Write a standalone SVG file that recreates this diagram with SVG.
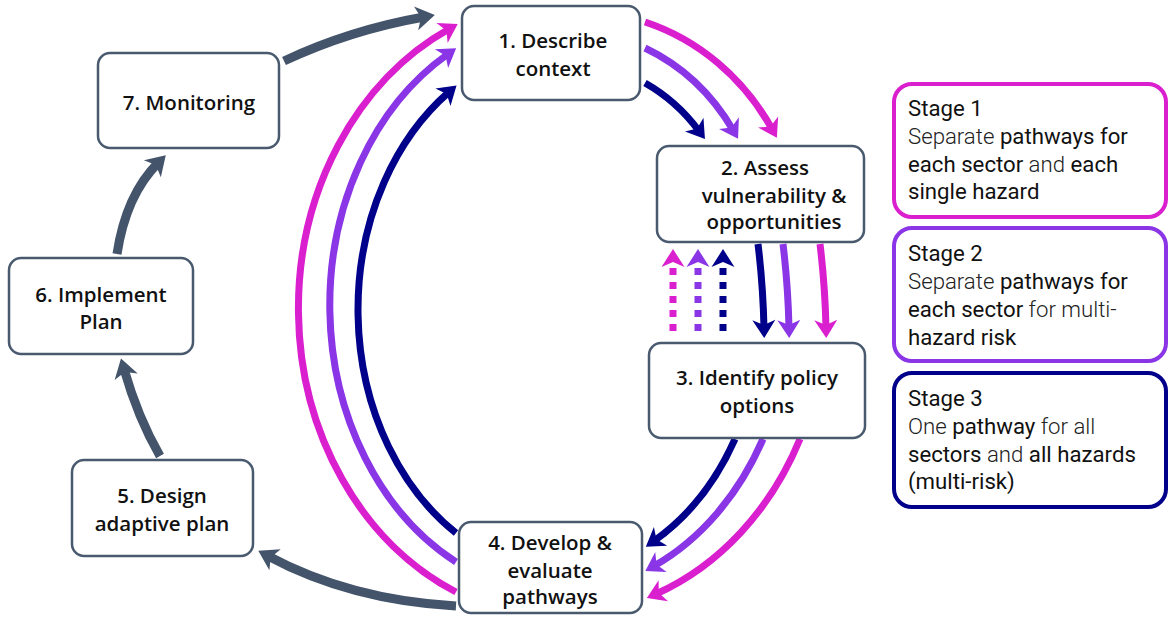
<svg xmlns="http://www.w3.org/2000/svg" width="1169" height="618" viewBox="0 0 1169 618">
<style>
.node rect{fill:#fff;stroke:#4a5a6e;stroke-width:2.5}
.node text{font-family:"Open Sans",Roboto,"Liberation Sans",sans-serif;font-weight:600;font-size:20.5px;fill:#111;text-anchor:middle}
.leg rect{fill:#fff;stroke-width:4}
.leg text{font-family:Roboto,"Liberation Sans",sans-serif;font-size:22.2px;fill:#111;font-weight:400}
.lt{font-weight:300;fill:#222}
.c path{fill:none}
.g{stroke:#44546a;stroke-width:9}
.m{stroke:#da1fcf;stroke-width:7}
.p{stroke:#8a36e6;stroke-width:7}
.n{stroke:#00008a;stroke-width:7}
.d{stroke-dasharray:7 7}
</style>
<defs>
<marker id="ag" markerUnits="userSpaceOnUse" viewBox="-10 -14 24 28" markerWidth="24" markerHeight="28" refX="0" refY="0" orient="auto"><path d="M11,0 L-8,-12 L-3,0 L-8,12 Z" fill="#44546a"/></marker>
<marker id="am" markerUnits="userSpaceOnUse" viewBox="-10 -14 24 28" markerWidth="24" markerHeight="28" refX="0" refY="0" orient="auto"><path d="M10,0 L-8,-11.5 L-3,0 L-8,11.5 Z" fill="#da1fcf"/></marker>
<marker id="ap" markerUnits="userSpaceOnUse" viewBox="-10 -14 24 28" markerWidth="24" markerHeight="28" refX="0" refY="0" orient="auto"><path d="M10,0 L-8,-11.5 L-3,0 L-8,11.5 Z" fill="#8a36e6"/></marker>
<marker id="an" markerUnits="userSpaceOnUse" viewBox="-10 -14 24 28" markerWidth="24" markerHeight="28" refX="0" refY="0" orient="auto"><path d="M10,0 L-8,-11.5 L-3,0 L-8,11.5 Z" fill="#00008a"/></marker>
</defs>
<rect width="1169" height="618" fill="#fff"/>
<g id="connectors" class="c">
<path class="g" d="M284,61 Q350,30 424,17" marker-end="url(#ag)"/>
<path class="g" d="M117,254 Q126,195 158,163" marker-end="url(#ag)"/>
<path class="g" d="M160,456 Q138,418 124,369" marker-end="url(#ag)"/>
<path class="g" d="M456,606 Q350,600 268,556" marker-end="url(#ag)"/>
<path class="m" d="M456,592 A265,310 0 0 1 449,29" marker-end="url(#am)"/>
<path class="p" d="M456,562 A236,290 0 0 1 448,54" marker-end="url(#ap)"/>
<path class="n" d="M456,533 A212,265 0 0 1 449,92" marker-end="url(#an)"/>
<path class="m" d="M645,22 A225,240 0 0 1 772,129" marker-end="url(#am)"/>
<path class="p" d="M645,48 A200,215 0 0 1 733,130" marker-end="url(#ap)"/>
<path class="n" d="M645,83 A170,185 0 0 1 699,131" marker-end="url(#an)"/>
<path class="n" d="M758,244 Q763,285 764,328" marker-end="url(#an)"/>
<path class="p" d="M783,244 Q788,285 789,328" marker-end="url(#ap)"/>
<path class="m" d="M820,244 Q825,285 826,328" marker-end="url(#am)"/>
<path class="m d" d="M673,331 L673,259" marker-end="url(#am)"/>
<path class="p d" d="M698,331 L698,259" marker-end="url(#ap)"/>
<path class="n d" d="M723,331 L723,259" marker-end="url(#an)"/>
<path class="m" d="M800,439 A265,310 0 0 1 656,594" marker-end="url(#am)"/>
<path class="p" d="M763,439 A236,290 0 0 1 654,566" marker-end="url(#ap)"/>
<path class="n" d="M735,439 A212,265 0 0 1 654,541" marker-end="url(#an)"/>
</g>
<g id="node1" class="node"><rect x="462" y="6" width="178" height="94" rx="12"/><text x="553" y="48">1. Describe</text><text x="553" y="76">context</text></g>
<g id="node2" class="node"><rect x="657" y="146" width="207" height="96" rx="12"/><text x="765" y="175">2. Assess</text><text x="774" y="203">vulnerability &amp;</text><text x="774" y="229">opportunities</text></g>
<g id="node3" class="node"><rect x="649" y="343" width="216" height="95" rx="12"/><text x="757" y="385">3. Identify policy</text><text x="757" y="413">options</text></g>
<g id="node4" class="node"><rect x="459" y="522" width="183" height="91" rx="12"/><text x="550" y="550">4. Develop &amp;</text><text x="550" y="578">evaluate</text><text x="550" y="604">pathways</text></g>
<g id="node5" class="node"><rect x="72" y="460" width="181" height="96" rx="12"/><text x="162" y="503">5. Design</text><text x="162" y="531">adaptive plan</text></g>
<g id="node6" class="node"><rect x="9" y="258" width="184" height="96" rx="12"/><text x="101" y="302">6. Implement</text><text x="101" y="329">Plan</text></g>
<g id="node7" class="node"><rect x="98" y="53" width="181" height="95" rx="12"/><text x="189" y="110">7. Monitoring</text></g>
<g id="stage1" class="leg"><rect x="894" y="84" width="272" height="133" rx="18" stroke="#da1fcf"/>
<text x="908" y="116">Stage 1</text>
<text x="908" y="144"><tspan class="lt">Separate</tspan> pathways for</text>
<text x="908" y="172">each sector<tspan class="lt"> and</tspan> each</text>
<text x="908" y="199">single hazard</text></g>
<g id="stage2" class="leg"><rect x="894" y="228" width="272" height="133" rx="18" stroke="#8a36e6"/>
<text x="908" y="261">Stage 2</text>
<text x="908" y="289"><tspan class="lt">Separate</tspan> pathways for</text>
<text x="908" y="317">each sector<tspan class="lt"> for multi-</tspan></text>
<text x="908" y="345">hazard risk</text></g>
<g id="stage3" class="leg"><rect x="894" y="373" width="272" height="134" rx="18" stroke="#00008a"/>
<text x="908" y="406">Stage 3</text>
<text x="908" y="434"><tspan class="lt">One</tspan> pathway<tspan class="lt"> for all</tspan></text>
<text x="908" y="462">sectors<tspan class="lt"> and</tspan> all hazards</text>
<text x="908" y="489">(multi-risk)</text></g>
</svg>
